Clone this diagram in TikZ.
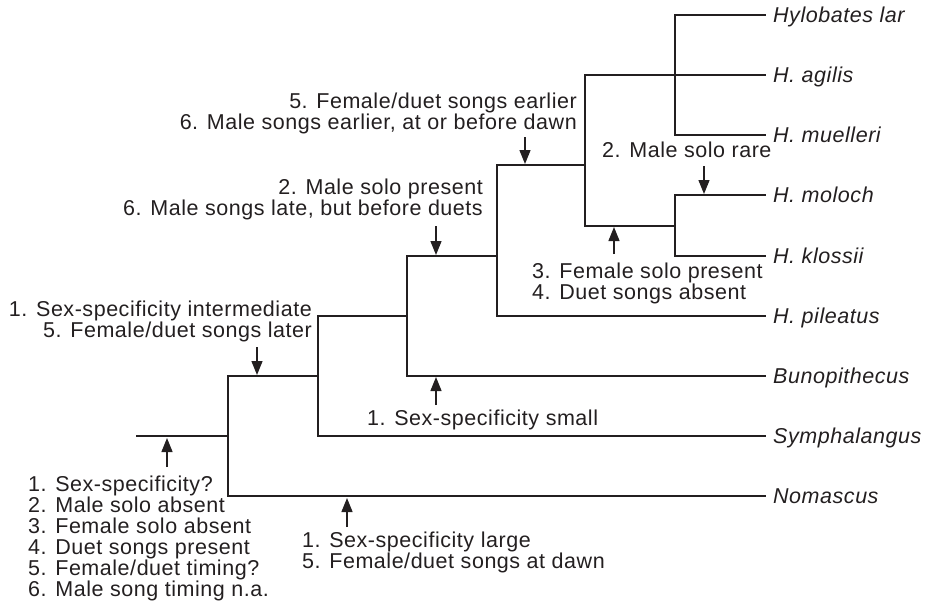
\documentclass[tikz,border=0pt]{standalone}
\usepackage{fontspec}
\setmainfont{Liberation Sans}[LetterSpace=2.5]
\usetikzlibrary{arrows.meta}
\definecolor{ink}{HTML}{231F20}
\newcommand\Lblock[1]{\vtop{\baselineskip=21pt\lineskiplimit=-20pt\lineskip=0pt\halign{##\hfil\cr#1\crcr}}}
\newcommand\Rblock[1]{\vtop{\baselineskip=21pt\lineskiplimit=-20pt\lineskip=0pt\halign{\hfil##\cr#1\crcr}}}
\begin{document}
\begin{tikzpicture}[x=1pt,y=-1pt,
  font=\fontsize{21.5}{21}\selectfont,
  branch/.style={draw=ink,line width=2.2pt,line cap=rect,line join=miter},
  charrow/.style={draw=ink,line width=1.3pt,-{Triangle[length=14pt,width=11pt]}},
  lbl/.style={inner sep=0pt,text=ink},
  lblL/.style={lbl,anchor=base west},
  lblR/.style={lbl,anchor=base east},
  taxon/.style={lbl,anchor=base west,font=\fontsize{21.5}{21}\selectfont\itshape,xshift=8pt,yshift=-7.5pt}]
\useasboundingbox (0,0) rectangle (927,603);
% tips
\coordinate (tlar) at (765,15);
\coordinate (tagi) at (765,75);
\coordinate (tmue) at (765,135);
\coordinate (tmol) at (765,195);
\coordinate (tklo) at (765,256);
\coordinate (tpil) at (765,316);
\coordinate (tbun) at (765,376);
\coordinate (tsym) at (765,436);
\coordinate (tnom) at (765,496);
% internal nodes
\coordinate (A) at (675,75);
\coordinate (B) at (675,226);
\coordinate (C) at (585,165);
\coordinate (D) at (497,256);
\coordinate (E) at (407,316);
\coordinate (F) at (318,376);
\coordinate (G) at (228,436);
\coordinate (R) at (137,436);
% taxon labels
\node[taxon] (nlar) at (tlar) {Hylobates lar};
\node[taxon] (nagi) at (tagi) {H. agilis};
\node[taxon] (nmue) at (tmue) {H. muelleri};
\node[taxon] (nmol) at (tmol) {H. moloch};
\node[taxon] (nklo) at (tklo) {H. klossii};
\node[taxon] (npil) at (tpil) {H. pileatus};
\node[taxon] (nbun) at (tbun) {Bunopithecus};
\node[taxon] (nsym) at (tsym) {Symphalangus};
\node[taxon] (nnom) at (tnom) {Nomascus};
% tree
\draw[branch] (tlar) -| (A) |- (tmue);
\draw[branch] (tmol) -| (B) |- (tklo);
\draw[branch] (tagi) -| (C) |- (B);
\draw[branch] (C) -| (D) |- (tpil);
\draw[branch] (D) -| (E) |- (tbun);
\draw[branch] (E) -| (F) |- (tsym);
\draw[branch] (F) -| (G) |- (tnom);
\draw[branch] (R) -- (G);
% character-change arrows
\coordinate (a1t) at (167,467); \coordinate (a1h) at (167,438);
\coordinate (a2t) at (347,527); \coordinate (a2h) at (347,498);
\coordinate (a3t) at (257,347); \coordinate (a3h) at (257,375);
\coordinate (a4t) at (436,405); \coordinate (a4h) at (436,377);
\coordinate (a5t) at (436,226); \coordinate (a5h) at (436,255);
\coordinate (a6t) at (525,137); \coordinate (a6h) at (525,164);
\coordinate (a7t) at (614,254); \coordinate (a7h) at (614,227);
\coordinate (a8t) at (704,166); \coordinate (a8h) at (704,194);
\foreach \i in {1,...,8} {\draw[charrow] (a\i t) -- (a\i h);}
% labels
\node[lblL] (lroot) at (28,491) {\Lblock{1. Sex-specificity?\cr 2. Male solo absent\cr 3. Female solo absent\cr 4. Duet songs present\cr 5. Female/duet timing?\cr 6. Male song timing n.a.}};
\node[lblL] (lnom) at (302,547) {\Lblock{1. Sex-specificity large\cr 5. Female/duet songs at dawn}};
\node[lblL] (lsmall) at (367,425) {1. Sex-specificity small};
\node[lblR] (linter) at (312,316) {\Rblock{1. Sex-specificity intermediate\cr 5. Female/duet songs later}};
\node[lblR] (lmsp) at (483,194) {\Rblock{2. Male solo present\cr 6. Male songs late, but before duets}};
\node[lblR] (learly) at (577,108) {\Rblock{5. Female/duet songs earlier\cr 6. Male songs earlier, at or before dawn}};
\node[lblL] (lrare) at (602,157) {2. Male solo rare};
\node[lblL] (lfsp) at (532,278) {\Lblock{3. Female solo present\cr 4. Duet songs absent}};
\end{tikzpicture}
\end{document}
